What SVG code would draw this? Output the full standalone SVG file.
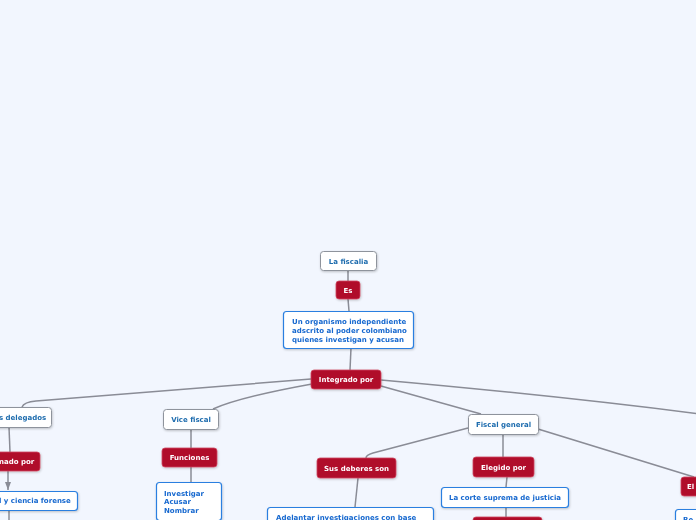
<svg xmlns="http://www.w3.org/2000/svg" width="696" height="520" viewBox="0 0 696 520">
<defs>
<filter id="sh" x="-20%" y="-20%" width="140%" height="160%">
<feDropShadow dx="0.6" dy="1" stdDeviation="0.8" flood-color="#000" flood-opacity="0.22"/>
</filter>
<marker id="arr" markerWidth="8" markerHeight="6" refX="8" refY="3" orient="auto" markerUnits="userSpaceOnUse">
<path d="M0,0 L8,3 L0,6 Z" fill="#8a8c96"/>
</marker>
<style>
.bg{fill:#f2f6fe}
.c{fill:none;stroke:#8a8c96;stroke-width:1.5}
.g{fill:#ffffff;stroke:#8e939c;stroke-width:1}
.b{fill:#ffffff;stroke:#2a7fe0;stroke-width:1.2}
.r{fill:#b0092b;stroke:#cf4b62;stroke-width:0.8}
text{font-family:"DejaVu Sans",Verdana,sans-serif;font-size:7px;font-weight:bold}
.tg{fill:#1e6cae}
.tb{fill:#1668cf}
.tr{fill:#ffffff}
.m{text-anchor:middle}
</style>
</defs>
<rect class="bg" x="0" y="0" width="696" height="520"/>
<g id="connectors">
<path class="c" d="M348,270 L348,281"/>
<path class="c" d="M348,299 L349,311"/>
<path class="c" d="M351,348 L350,370"/>
<path class="c" d="M311,379 L36,401 Q24,402 22,407"/>
<path class="c" d="M312,384 Q240,397 213,409"/>
<path class="c" d="M381,386 L481,414"/>
<path class="c" d="M381,380 Q560,396 700,414"/>
<path class="c" d="M468,428 L373,453 Q366,455 366,458"/>
<path class="c" d="M503,434 L503,457"/>
<path class="c" d="M538,429 L694,477"/>
<path class="c" d="M358,478 L355,507"/>
<path class="c" d="M507,477 L506,487"/>
<path class="c" d="M506,507 L506,517"/>
<path class="c" d="M9,427 L10,452"/>
<path class="c" d="M8,471 L8,490" marker-end="url(#arr)"/>
<path class="c" d="M9,510 L9,520"/>
<path class="c" d="M191,429 L191,448"/>
<path class="c" d="M191,467 L191,482"/>
</g>
<g id="n-fiscalia" filter="url(#sh)">
<rect class="g" x="320.5" y="251.5" width="56" height="19" rx="3"/>
<text class="tg m" x="348.5" y="263.5">La fiscalia</text>
</g>
<g id="n-es" filter="url(#sh)">
<rect class="r" x="336" y="281" width="24" height="18" rx="3"/>
<text class="tr m" x="348" y="292.5">Es</text>
</g>
<g id="n-organismo" filter="url(#sh)">
<rect class="b" x="283.5" y="311.5" width="130" height="37" rx="3"/>
<text class="tb" x="292" y="323.5">Un organismo independiente</text>
<text class="tb" x="292" y="332.5">adscrito al poder colombiano</text>
<text class="tb" x="292" y="341.5">quienes investigan y acusan</text>
</g>
<g id="n-integrado" filter="url(#sh)">
<rect class="r" x="311" y="370" width="70" height="19" rx="3"/>
<text class="tr m" x="346" y="382">Integrado por</text>
</g>
<g id="n-delegados" filter="url(#sh)">
<rect class="g" x="-10.5" y="407.5" width="62" height="20" rx="3"/>
<text class="tg" x="-1" y="420">s delegados</text>
</g>
<g id="n-nado" filter="url(#sh)">
<rect class="r" x="-10" y="452" width="50" height="19" rx="3"/>
<text class="tr" x="-1" y="464">nado por</text>
</g>
<g id="n-forense" filter="url(#sh)">
<rect class="b" x="-10.5" y="491.5" width="88" height="19" rx="3"/>
<text class="tb" x="-1" y="503">l y ciencia forense</text>
</g>
<g id="n-vice" filter="url(#sh)">
<rect class="g" x="163.5" y="409.5" width="55" height="20" rx="3"/>
<text class="tg m" x="191" y="422">Vice fiscal</text>
</g>
<g id="n-funciones" filter="url(#sh)">
<rect class="r" x="162" y="448" width="55" height="19" rx="3"/>
<text class="tr m" x="189.5" y="460">Funciones</text>
</g>
<g id="n-investigar" filter="url(#sh)">
<rect class="b" x="156.5" y="482.5" width="65" height="38" rx="3"/>
<text class="tb" x="164" y="495.5">Investigar</text>
<text class="tb" x="164" y="504">Acusar</text>
<text class="tb" x="164" y="512.5">Nombrar</text>
</g>
<g id="n-fiscalgeneral" filter="url(#sh)">
<rect class="g" x="468.5" y="414.5" width="70" height="20" rx="3"/>
<text class="tg m" x="503.5" y="427">Fiscal general</text>
</g>
<g id="n-deberes" filter="url(#sh)">
<rect class="r" x="317" y="458" width="79" height="20" rx="3"/>
<text class="tr m" x="356.5" y="471">Sus deberes son</text>
</g>
<g id="n-adelantar" filter="url(#sh)">
<rect class="b" x="267.5" y="507.5" width="166" height="20" rx="3"/>
<text class="tb" x="276" y="519.5">Adelantar investigaciones con base</text>
</g>
<g id="n-elegido" filter="url(#sh)">
<rect class="r" x="473" y="457" width="61" height="20" rx="3"/>
<text class="tr m" x="503.5" y="469.5">Elegido por</text>
</g>
<g id="n-corte" filter="url(#sh)">
<rect class="b" x="441.5" y="487.5" width="127" height="20" rx="3"/>
<text class="tb m" x="505" y="500">La corte suprema de justicia</text>
</g>
<g id="n-red-below" filter="url(#sh)">
<rect class="r" x="473" y="517" width="69" height="12" rx="3"/>
</g>
<g id="n-el" filter="url(#sh)">
<rect class="r" x="681" y="477" width="30" height="19" rx="3"/>
<text class="tr" x="687" y="489">El</text>
</g>
<g id="n-re" filter="url(#sh)">
<rect class="b" x="675.5" y="509.5" width="30" height="20" rx="3"/>
<text class="tb" x="683" y="522">Re</text>
</g>
</svg>
